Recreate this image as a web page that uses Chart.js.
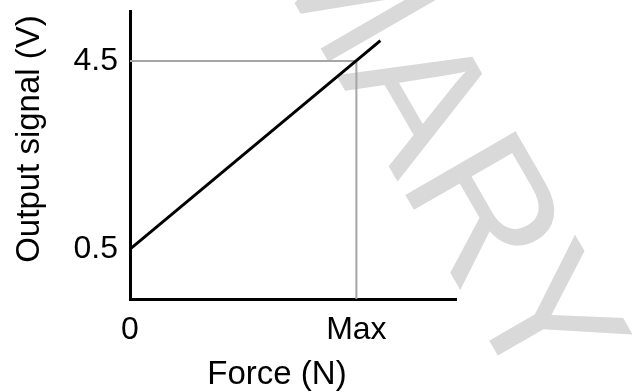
<!DOCTYPE html>
<html>
<head>
<meta charset="utf-8">
<script src="https://cdn.jsdelivr.net/npm/chart.js@4.4.1/dist/chart.umd.min.js"></script>
<style>
  html, body { margin: 0; padding: 0; background: #fff; }
  #wrap { width: 632px; height: 392px; }
</style>
</head>
<body>
<div id="wrap"><canvas id="chart" width="632" height="392"></canvas></div>
<script>
// Axis ranges and ticks
const X_MIN = 0;
const X_MAX = 14.4;
const Y_MIN = -0.56;
const Y_MAX = 5.56;
const forceTicks = [0, 10];
const forceLabels = ['0', 'Max'];
const signalTicks = [0.5, 4.5];
const signalLabels = ['0.5', '4.5'];

// Output line
const lineForce = [0, 11.06];
const lineSignal = [0.5, 4.93];

// Grey guide at full scale
const guideForce = [0, 10, 10];
const guideSignal = [4.5, 4.5, Y_MIN];

const xTitle = 'Force (N)';
const yTitle = 'Output signal (V)';
const watermark = ['M', 'ARY'];

const FONT = '"Liberation Sans", Arial, sans-serif';

const toPoints = (xs, ys) => xs.map((x, i) => ({ x: x, y: ys[i] }));

// Watermark behind everything
const watermarkPlugin = {
    id: 'watermark',
    beforeDraw(chart) {
        const ctx = chart.ctx;
        ctx.save();
        ctx.fillStyle = '#d9d9d9';
        ctx.font = '185px ' + FONT;
        ctx.textBaseline = 'alphabetic';
        ctx.translate(336, 75);
        ctx.rotate(Math.PI / 3);
        ctx.textAlign = 'right';
        ctx.fillText(watermark[0], 0, 0);
        ctx.textAlign = 'left';
        ctx.fillText(watermark[1], 0, 0);
        ctx.restore();
    }
};

// Axis titles (placed off-centre like the original)
const titlesPlugin = {
    id: 'axisTitles',
    afterDraw(chart) {
        const ctx = chart.ctx;
        const area = chart.chartArea;
        ctx.save();
        ctx.fillStyle = '#000';
        ctx.font = '33px ' + FONT;
        ctx.textAlign = 'center';
        ctx.textBaseline = 'alphabetic';
        ctx.fillText(xTitle, area.left + 147, area.bottom + 85);
        ctx.translate(39, area.top + 128);
        ctx.rotate(-Math.PI / 2);
        ctx.fillText(yTitle, 0, 0);
        ctx.restore();
    }
};

new Chart(document.getElementById('chart'), {
    type: 'line',
    data: {
        datasets: [{
            data: toPoints(lineForce, lineSignal),
            borderColor: '#000',
            borderWidth: 3,
            pointRadius: 0,
            fill: false
        }, {
            data: toPoints(guideForce, guideSignal),
            borderColor: '#a6a6a6',
            borderWidth: 2,
            pointRadius: 0,
            fill: false
        }]
    },
    options: {
        responsive: false,
        animation: false,
        layout: {
            padding: { left: 0, top: 11, right: 176, bottom: 0 }
        },
        plugins: {
            legend: { display: false },
            tooltip: { enabled: false }
        },
        scales: {
            x: {
                type: 'linear',
                min: X_MIN,
                max: X_MAX,
                afterFit: s => {
                    s.height = 93;
                    s.paddingLeft = 0;
                    s.paddingRight = 0;
                },
                afterBuildTicks: s => { s.ticks = forceTicks.map(v => ({ value: v })); },
                grid: { display: false, drawTicks: false },
                border: { display: true, color: '#000', width: 3 },
                ticks: {
                    color: '#000',
                    font: { family: FONT, size: 32 },
                    padding: 12,
                    maxRotation: 0,
                    autoSkip: false,
                    callback: v => forceLabels[forceTicks.indexOf(v)]
                }
            },
            y: {
                type: 'linear',
                min: Y_MIN,
                max: Y_MAX,
                afterFit: s => {
                    s.width = 130;
                    s.paddingTop = 0;
                    s.paddingBottom = 0;
                },
                afterBuildTicks: s => { s.ticks = signalTicks.map(v => ({ value: v })); },
                grid: { display: false, drawTicks: false },
                border: { display: true, color: '#000', width: 3 },
                ticks: {
                    color: '#000',
                    font: { family: FONT, size: 32 },
                    padding: 12,
                    autoSkip: false,
                    callback: v => signalLabels[signalTicks.indexOf(v)]
                }
            }
        }
    },
    plugins: [watermarkPlugin, titlesPlugin]
});
</script>
</body>
</html>
